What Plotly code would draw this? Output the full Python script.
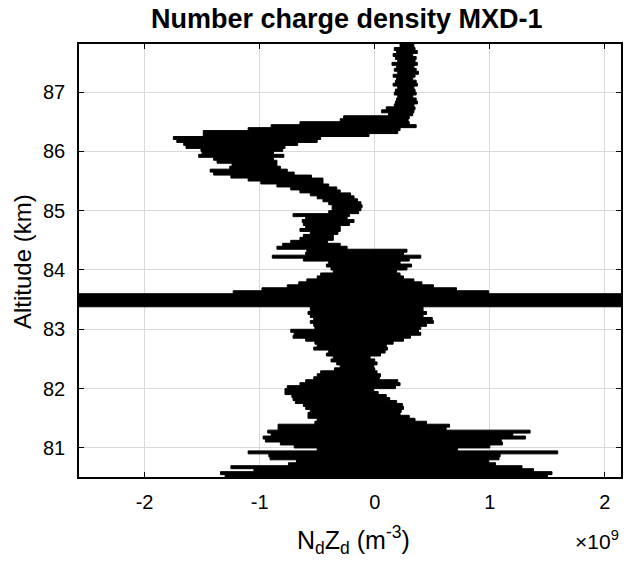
import plotly.graph_objects as go

# Altitude levels (km): top of each horizontal layer of the trace
alt_km = [87.85, 87.75, 87.70, 87.65, 87.60, 87.55, 87.50, 87.45, 87.40, 87.35,
          87.30, 87.25, 87.20, 87.15, 87.10, 87.05, 87.00, 86.95, 86.90, 86.85,
          86.80, 86.75, 86.70, 86.65, 86.60, 86.55, 86.50, 86.45, 86.40, 86.35,
          86.30, 86.25, 86.20, 86.15, 86.10, 86.05, 86.00, 85.95, 85.90, 85.85,
          85.80, 85.75, 85.70, 85.65, 85.60, 85.55, 85.50, 85.45, 85.40, 85.35,
          85.30, 85.25, 85.20, 85.15, 85.10, 85.05, 85.00, 84.95, 84.90, 84.85,
          84.80, 84.75, 84.70, 84.65, 84.60, 84.55, 84.50, 84.45, 84.40, 84.35,
          84.30, 84.25, 84.20, 84.15, 84.10, 84.05, 84.00, 83.95, 83.90, 83.85,
          83.80, 83.75, 83.70, 83.65, 83.60, 83.38, 83.30, 83.25, 83.20, 83.15,
          83.10, 83.05, 83.00, 82.95, 82.90, 82.85, 82.80, 82.75, 82.70, 82.65,
          82.60, 82.55, 82.50, 82.45, 82.40, 82.35, 82.30, 82.25, 82.20, 82.15,
          82.10, 82.05, 82.00, 81.95, 81.90, 81.85, 81.80, 81.75, 81.70, 81.65,
          81.60, 81.55, 81.50, 81.45, 81.40, 81.35, 81.30, 81.25, 81.20, 81.15,
          81.10, 81.05, 81.00, 80.95, 80.90, 80.85, 80.80, 80.75, 80.70, 80.65,
          80.60, 80.55]
alt_bottom_km = 80.45

# Left (most negative) excursion of NdZd in each layer (x 1e9 m^-3)
ndzd_left = [0.22, 0.17, 0.19, 0.16, 0.18, 0.20, 0.15, 0.19, 0.17, 0.20,
             0.16, 0.19, 0.18, 0.16, 0.20, 0.18, 0.17, 0.20, 0.19, 0.18,
             0.17, 0.10, 0.06, 0.12, -0.27, -0.30, -0.65, -0.90, -1.10, -1.49,
             -1.49, -1.75, -1.72, -1.66, -1.64, -1.51, -1.50, -1.53, -1.40, -1.37,
             -1.24, -1.26, -1.43, -1.40, -1.25, -1.10, -0.99, -0.85, -0.73, -0.65,
             -0.56, -0.50, -0.45, -0.40, -0.37, -0.37, -0.40, -0.71, -0.60, -0.63,
             -0.62, -0.60, -0.65, -0.56, -0.62, -0.65, -0.73, -0.80, -0.85, -0.59,
             -0.60, -0.89, -0.62, -0.40, -0.42, -0.38, -0.36, -0.47, -0.50, -0.59,
             -0.66, -0.76, -0.98, -1.23, -4.00, -0.56, -0.58, -0.56, -0.53, -0.56,
             -0.53, -0.52, -0.73, -0.70, -0.71, -0.60, -0.52, -0.50, -0.53, -0.40,
             -0.42, -0.36, -0.38, -0.33, -0.30, -0.35, -0.47, -0.50, -0.53, -0.60,
             -0.65, -0.76, -0.78, -0.78, -0.72, -0.71, -0.69, -0.62, -0.60, -0.56,
             -0.58, -0.58, -0.50, -0.52, -0.84, -0.84, -0.93, -0.90, -0.97, -0.95,
             -0.82, -0.70, -0.50, -1.10, -0.92, -0.91, -0.68, -0.75, -1.25, -1.05,
             -1.34, -1.30]

# Right (most positive) excursion of NdZd in each layer (x 1e9 m^-3)
ndzd_right = [0.34, 0.35, 0.37, 0.33, 0.36, 0.35, 0.37, 0.34, 0.36, 0.38,
              0.35, 0.33, 0.36, 0.37, 0.34, 0.35, 0.36, 0.33, 0.36, 0.37,
              0.34, 0.35, 0.34, 0.33, 0.30, 0.29, 0.30, 0.36, 0.22, 0.20,
              -0.05, -0.47, -0.50, -0.67, -0.78, -0.80, -0.88, -0.79, -0.88, -0.85,
              -0.85, -0.82, -0.76, -0.70, -0.55, -0.45, -0.45, -0.40, -0.33, -0.30,
              -0.21, -0.18, -0.15, -0.12, -0.11, -0.12, -0.14, -0.22, -0.24, -0.18,
              -0.22, -0.30, -0.30, -0.32, -0.36, -0.36, -0.41, -0.30, -0.24, 0.28,
              0.25, 0.40, 0.30, 0.22, 0.32, 0.28, 0.19, 0.22, 0.25, 0.34,
              0.41, 0.51, 0.71, 0.99, 4.00, 0.42, 0.45, 0.42, 0.50, 0.51,
              0.45, 0.40, 0.38, 0.40, 0.31, 0.25, 0.16, 0.10, 0.11, 0.09,
              0.05, -0.04, 0.00, 0.02, -0.01, 0.00, 0.02, 0.05, 0.04, 0.20,
              0.22, 0.18, -0.01, 0.03, 0.10, 0.13, 0.19, 0.24, 0.25, 0.23,
              0.22, 0.30, 0.35, 0.45, 0.65, 0.62, 1.35, 1.20, 1.31, 1.10,
              1.11, 1.00, 0.72, 1.59, 1.09, 1.08, 0.99, 1.05, 1.28, 1.38,
              1.54, 1.50]

x_ticks = [-2, -1, 0, 1, 2]
y_ticks = [81, 82, 83, 84, 85, 86, 87]

# Build the step outline of the profile from the layer table
bounds = alt_km[1:] + [alt_bottom_km]
px, py = [], []
for a_top, a_bot, xl in zip(alt_km, bounds, ndzd_left):
    px += [xl, xl]
    py += [a_top, a_bot]
for a_top, a_bot, xr in reversed(list(zip(alt_km, bounds, ndzd_right))):
    px += [xr, xr]
    py += [a_bot, a_top]
px.append(px[0])
py.append(py[0])

fig = go.Figure()
fig.add_trace(go.Scatter(
    x=px, y=py, mode="lines", fill="toself",
    fillcolor="black", line=dict(color="black", width=1),
    hoverinfo="skip", showlegend=False))

FONT = "Liberation Sans, Arial, Helvetica, sans-serif"
W, H = 624, 563
L, R, T, B = 79, 3, 44, 86
axis_common = dict(
    showgrid=True, gridcolor="#d9d9d9", gridwidth=1,
    showline=True, linecolor="black", linewidth=1.5, mirror="ticks",
    ticks="inside", ticklen=5, tickcolor="black", tickwidth=1,
    zeroline=False, automargin=False,
    tickfont=dict(family=FONT, size=20, color="black"),
)

pw, ph = W - L - R, H - T - B
def xp(pix):
    return (pix - L) / pw
def yp(pix):
    return 1 - (pix - T) / ph

fig.update_layout(
    width=W, height=H,
    margin=dict(l=L, r=R, t=T, b=B, autoexpand=False),
    paper_bgcolor="white", plot_bgcolor="white",
    showlegend=False,
    xaxis=dict(range=[-2.57, 2.14], tickvals=x_ticks, ticklabelstandoff=6,
               ticktext=[str(v) for v in x_ticks], **axis_common),
    yaxis=dict(range=[80.51, 87.81], tickvals=y_ticks, ticklabelstandoff=8,
               ticktext=[str(v) for v in y_ticks], **axis_common),
    annotations=[
        dict(text="<b>Number charge density MXD-1</b>", x=xp(347), y=yp(19),
             xref="paper", yref="paper", xanchor="center", yanchor="middle",
             showarrow=False, font=dict(family=FONT, size=27, color="black")),
        dict(text="N<sub>d</sub>Z<sub>d</sub> (m<sup>-3</sup>)", x=xp(353), y=yp(540),
             xref="paper", yref="paper", xanchor="center", yanchor="middle",
             showarrow=False, font=dict(family=FONT, size=25, color="black")),
        dict(text="\u00d710<sup>9</sup>", x=xp(621), y=yp(540),
             xref="paper", yref="paper", xanchor="right", yanchor="middle",
             showarrow=False, font=dict(family=FONT, size=21, color="black")),
        dict(text="Altitude (km)", x=xp(22), y=yp(262),
             xref="paper", yref="paper", xanchor="center", yanchor="middle",
             textangle=-90, showarrow=False,
             font=dict(family=FONT, size=24, color="black")),
    ],
)

fig.write_html("out.html", config={"displayModeBar": False},
               post_script="document.body.style.margin='0';")
